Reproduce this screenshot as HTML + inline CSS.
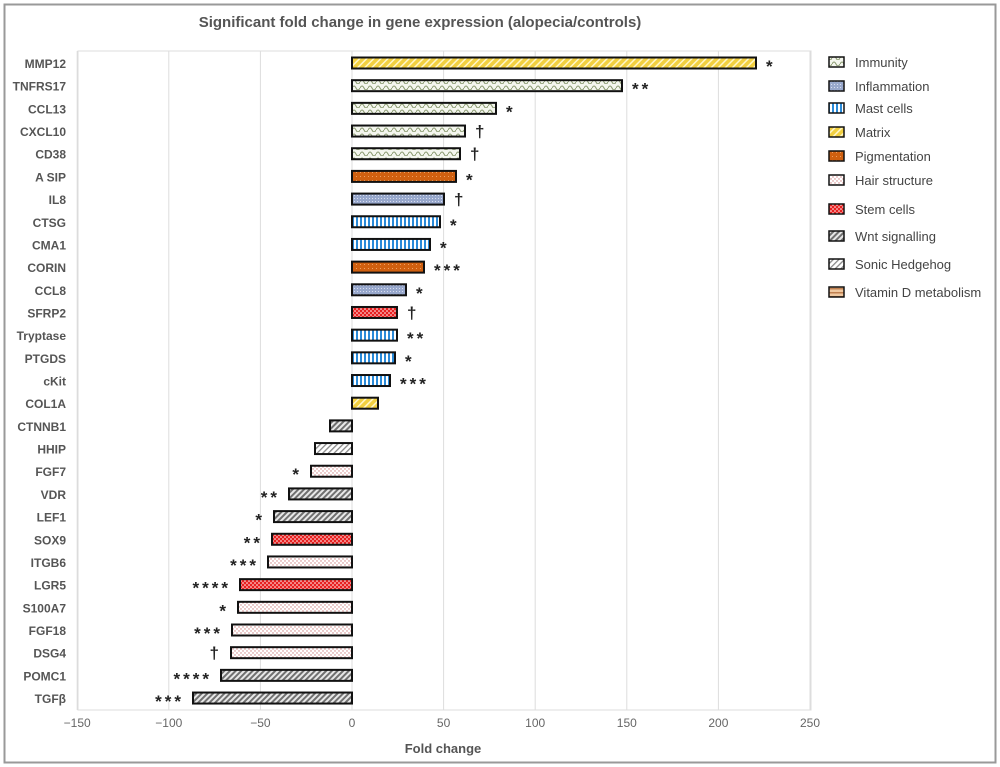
<!DOCTYPE html>
<html><head><meta charset="utf-8"><style>
html,body{margin:0;padding:0;background:#fff;}
svg{display:block;font-family:"Liberation Sans",sans-serif;}
</style></head><body>
<svg id="s" width="1000" height="767" viewBox="0 0 1000 767" xmlns="http://www.w3.org/2000/svg">
<defs>
<pattern id="imm" width="8" height="6" patternUnits="userSpaceOnUse"><rect width="8" height="6" fill="#f4f6ee"/><path d="M0 4 Q2 0 4 4 T8 4" fill="none" stroke="#8a9a70" stroke-width="1"/></pattern>
<pattern id="inf" width="3" height="3" patternUnits="userSpaceOnUse"><rect width="3" height="3" fill="#98a8cc"/><rect width="1" height="1" fill="#d8def0"/></pattern>
<pattern id="mast" width="4" height="4" patternUnits="userSpaceOnUse"><rect width="4" height="4" fill="#fff"/><rect width="2" height="4" fill="#2a8ad8"/></pattern>
<pattern id="mat" width="5" height="5" patternUnits="userSpaceOnUse" patternTransform="rotate(45)"><rect width="5" height="5" fill="#f2d040"/><rect width="1.5" height="5" fill="#fff6c8"/></pattern>
<pattern id="pig" width="4" height="4" patternUnits="userSpaceOnUse"><rect width="4" height="4" fill="#d06010"/><rect width="1" height="1" fill="#f0a060"/></pattern>
<pattern id="hair" width="4" height="4" patternUnits="userSpaceOnUse"><rect width="4" height="4" fill="#fff"/><circle cx="1" cy="1" r="0.7" fill="#d08080"/><circle cx="3" cy="3" r="0.7" fill="#d08080"/></pattern>
<pattern id="stem" width="4" height="4" patternUnits="userSpaceOnUse"><rect width="4" height="4" fill="#e82020"/><circle cx="1" cy="1" r="0.8" fill="#fff"/><circle cx="3" cy="3" r="0.8" fill="#fff"/></pattern>
<pattern id="wnt" width="4" height="4" patternUnits="userSpaceOnUse" patternTransform="rotate(45)"><rect width="4" height="4" fill="#e8e8e8"/><rect width="2" height="4" fill="#707070"/></pattern>
<pattern id="son" width="4" height="4" patternUnits="userSpaceOnUse" patternTransform="rotate(45)"><rect width="4" height="4" fill="#fff"/><rect width="1.3" height="4" fill="#888"/></pattern>
<pattern id="vit" width="4" height="4" patternUnits="userSpaceOnUse"><rect width="4" height="4" fill="#f0c8a0"/><rect width="4" height="1.5" fill="#c08050"/></pattern>
</defs>
<rect x="4.5" y="4.5" width="991" height="758" fill="#fff" stroke="#999" stroke-width="2"/>
<text x="420" y="27" text-anchor="middle" font-size="15" font-weight="bold" fill="#555">Significant fold change in gene expression (alopecia/controls)</text>
<g id="g"></g>
</svg>
<script>
var g=document.getElementById('g'),h='';
var x0=352,k=1.832;
h+='<rect x="78" y="51" width="733" height="659" fill="none" stroke="#ddd"/>';
[-150,-100,-50,0,50,100,150,200,250].forEach(function(v){var x=x0+v*k;
h+='<line x1="'+x+'" y1="51" x2="'+x+'" y2="710" stroke="#ddd"/>';
h+='<text x="'+x+'" y="727" text-anchor="middle" font-size="12" fill="#666">'+(v<0?'\u2212'+(-v):v)+'</text>';});
h+='<text x="443" y="753" text-anchor="middle" font-size="13" font-weight="bold" fill="#555">Fold change</text>';
var d=[["MMP12",756,"mat","*"],["TNFRS17",622,"imm","**"],["CCL13",496,"imm","*"],["CXCL10",465,"imm","\u2020"],["CD38",460,"imm","\u2020"],["A SIP",456,"pig","*"],["IL8",444,"inf","\u2020"],["CTSG",440,"mast","*"],["CMA1",430,"mast","*"],["CORIN",424,"pig","***"],["CCL8",406,"inf","*"],["SFRP2",397,"stem","\u2020"],["Tryptase",397,"mast","**"],["PTGDS",395,"mast","*"],["cKit",390,"mast","***"],["COL1A",378,"mat",""],["CTNNB1",330,"wnt",""],["HHIP",315,"son",""],["FGF7",311,"hair","*"],["VDR",289,"wnt","**"],["LEF1",274,"wnt","*"],["SOX9",272,"stem","**"],["ITGB6",268,"hair","***"],["LGR5",240,"stem","****"],["S100A7",238,"hair","*"],["FGF18",232,"hair","***"],["DSG4",231,"hair","\u2020"],["POMC1",221,"wnt","****"],["TGF\u03b2",193,"wnt","***"]];
d.forEach(function(r,i){var y=63+i*22.68;var a=Math.min(x0,r[1]),w=Math.abs(r[1]-x0);
h+='<text x="66" y="'+(y+5)+'" text-anchor="end" font-size="12" font-weight="bold" fill="#555">'+r[0]+'</text>';
h+='<rect x="'+a+'" y="'+(y-5.5)+'" width="'+w+'" height="11" fill="url(#'+r[2]+')" stroke="#111" stroke-width="2"/>';
if(r[3]){var pos=r[1]>x0;var tx=pos?r[1]+10:r[1]-9;
h+='<text x="'+tx+'" y="'+(y+(r[3]=="\u2020"?6:9))+'" text-anchor="'+(pos?'start':'end')+'" font-size="17" font-weight="bold" letter-spacing="3" fill="#222">'+r[3]+'</text>';}});
var L=[["Immunity","imm",62],["Inflammation","inf",86],["Mast cells","mast",108],["Matrix","mat",132],["Pigmentation","pig",156],["Hair structure","hair",180],["Stem cells","stem",209],["Wnt signalling","wnt",236],["Sonic Hedgehog","son",264],["Vitamin D metabolism","vit",292]];
L.forEach(function(l){h+='<rect x="829" y="'+(l[2]-5)+'" width="15" height="10" fill="url(#'+l[1]+')" stroke="#111" stroke-width="1.5"/>';
h+='<text x="855" y="'+(l[2]+5)+'" font-size="13" fill="#444">'+l[0]+'</text>';});
g.innerHTML=h;
</script>
</body></html>
